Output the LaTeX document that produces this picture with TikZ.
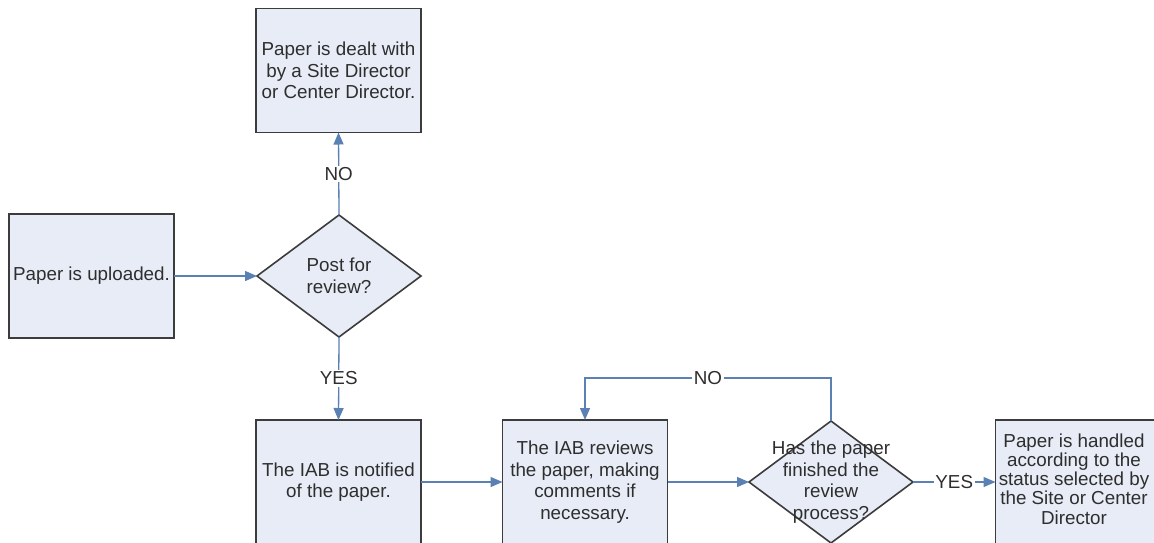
\documentclass[tikz,border=0pt]{standalone}
\usepackage{fontspec}
\setmainfont{Liberation Sans}
\usetikzlibrary{shapes.geometric,arrows.meta}
\definecolor{boxfill}{HTML}{E7ECF6}
\definecolor{boxline}{HTML}{3C3C3C}
\definecolor{conn}{HTML}{5A80B4}
\definecolor{txt}{HTML}{2E2E2E}
\tikzset{
  stepbox/.style={draw=boxline, line width=1.6pt, fill=boxfill, minimum width=165pt, minimum height=124pt,
    inner sep=0pt, outer sep=0pt, align=center, text=txt, font=\fontsize{18.8}{21.7}\selectfont},
  decision/.style={diamond, draw=boxline, line width=1.6pt, fill=boxfill, minimum width=164pt, minimum height=122pt,
    inner sep=0pt, outer sep=0pt},
  dtext/.style={align=center, text=txt, font=\fontsize{18.8}{21.7}\selectfont, inner sep=0pt},
  arr/.style={draw=conn, line width=1.3pt, -{Triangle[length=12pt,width=10pt]}},
  lbl/.style={fill=white, inner sep=1.5pt, text=txt, font=\fontsize{18.8}{21.7}\selectfont},
}
\begin{document}
\begin{tikzpicture}[x=1pt,y=-1pt]
\useasboundingbox (0,0) rectangle (1154,542);
\clip (0,0) rectangle (1154,542);
\fill[white] (0,0) rectangle (1154,542);
\node[stepbox] (dealt) at (338.5,70.5) {Paper is dealt with\\by a Site Director\\or Center Director.};
\node[stepbox] (up) at (91.5,276) {Paper is uploaded.};
\node[decision] (d1) at (339,276) {};
\node[dtext] at (d1) {Post for\\review?};
\node[stepbox] (notif) at (338.5,482) {The IAB is notified\\of the paper.};
\node[stepbox] (rev) at (585,482) {The IAB reviews\\the paper, making\\comments if\\necessary.};
\node[decision] (d2) at (831,482) {};
\node[dtext] at (d2) {Has the paper\\finished the\\review\\process?};
\node[stepbox] (hand) at (1078,482) {};
\node[dtext, font=\fontsize{18.8}{19.2}\selectfont] at (1074,479) {Paper is handled\\according to the\\status selected by\\the Site or Center\\Director};
\coordinate (loop) at (831,378);
\draw[arr] (up.east) -- (d1.west);
\draw[arr] (d1.north) -- node[lbl]{NO} (dealt.south);
\draw[arr] (d1.south) -- node[lbl]{YES} (notif.north);
\draw[arr] (notif.east) -- (rev.west);
\draw[arr] (rev.east) -- (d2.west);
\draw[arr] (d2.north) -- (loop) -| node[lbl,pos=0.25]{NO} (rev.north);
\draw[arr] (d2.east) -- node[lbl]{YES} (hand.west);
\end{tikzpicture}
\end{document}
